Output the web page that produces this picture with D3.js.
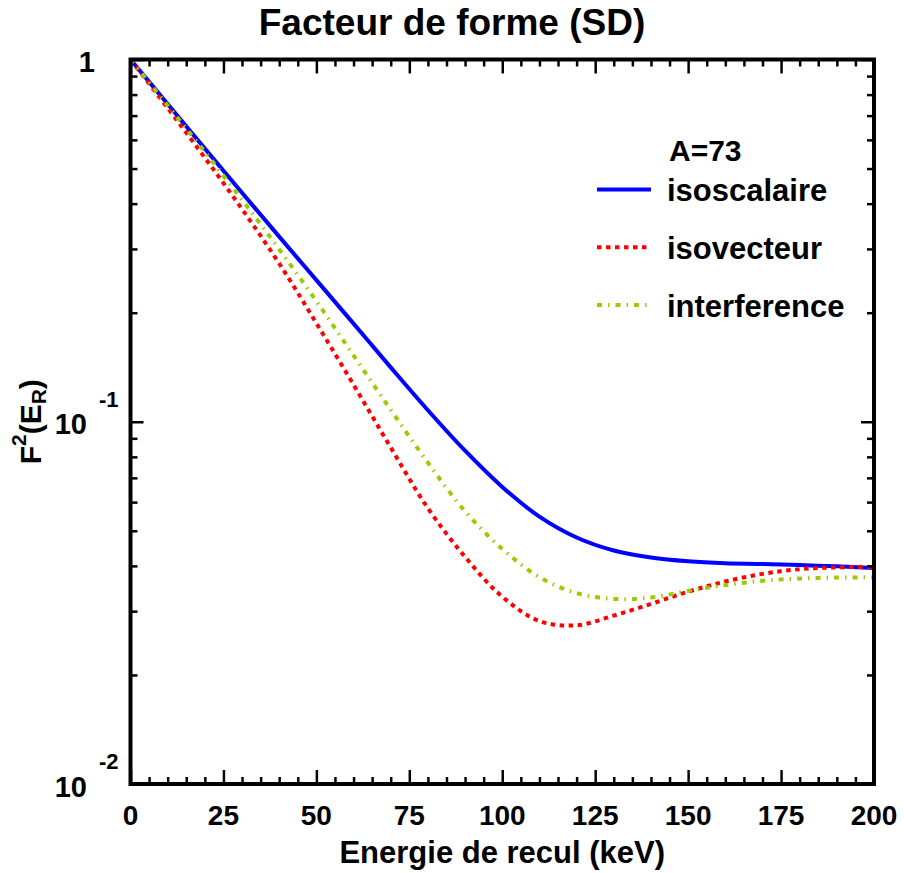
<!DOCTYPE html>
<html>
<head>
<meta charset="utf-8">
<script src="https://cdn.jsdelivr.net/npm/d3@7"></script>
<style>
    body { margin: 0; background: #fff; }
    text { font-family: "Liberation Sans", Arial, sans-serif; font-weight: bold; fill: #000; }
</style>
</head>
<body>
<div id="chart"></div>
<script>
/*global d3*/

// Recoil energy (keV) and squared form factors
var energy = [0, 10, 20, 30, 40, 50, 60, 70, 80, 90, 100, 110, 120, 130, 140, 150, 160, 170, 180, 190, 200];
var isoscalaire = [1, 0.7534, 0.5675, 0.4285, 0.3243, 0.2460, 0.1866, 0.1413, 0.1076, 0.0832, 0.0661, 0.0547, 0.0479, 0.0441, 0.0422, 0.0412, 0.0407, 0.0405, 0.0402, 0.0399, 0.0395];
var isovecteur = [1, 0.7345, 0.5358, 0.3864, 0.2735, 0.1871, 0.1265, 0.0849, 0.0577, 0.04236, 0.03289, 0.02818, 0.02742, 0.02917, 0.03141, 0.03396, 0.03622, 0.03802, 0.03917, 0.03963, 0.03972];
var interference = [1, 0.7464, 0.5559, 0.4102, 0.2992, 0.2153, 0.1524, 0.1079, 0.0771, 0.0566, 0.04457, 0.03724, 0.03365, 0.03243, 0.03273, 0.03412, 0.03540, 0.03639, 0.03690, 0.03715, 0.03719];

var seriesNames = ["isoscalaire", "isovecteur", "interference"];
var xMajorTicks = [0, 25, 50, 75, 100, 125, 150, 175, 200];
var xTickLabels = ["0", "25", "50", "75", "100", "125", "150", "175", "200"];
var yMajorTicks = [0.01, 0.1, 1];
var yTickBase = ["10", "10", "1"];
var yTickExponent = ["-2", "-1", ""];

(function () {
    "use strict";

    var width = 904,
        height = 873,
        left = 130.5,
        right = 874,
        top = 59.5,
        bottom = 784;

    var svg = d3.select("#chart").append("svg")
        .attr("width", width)
        .attr("height", height);

    svg.append("rect").attr("width", width).attr("height", height).attr("fill", "#fff");

    var x = d3.scaleLinear().domain([0, 200]).range([left, right]);
    var y = d3.scaleLog().domain([0.01, 1]).range([bottom, top]);

    // minor ticks: every 5 keV, and 2..9 of each decade
    var xMinor = d3.range(0, 201, 5).filter(function (d) { return d % 25 !== 0; });
    var yMinor = [];
    [0.01, 0.1].forEach(function (dec) {
        d3.range(2, 10).forEach(function (m) { yMinor.push(dec * m); });
    });

    // curves first, frame drawn on top
    var styles = [
        {data: isoscalaire, color: "#0000ff", dash: null},
        {data: isovecteur, color: "#ff0000", dash: "4.5,4.5"},
        {data: interference, color: "#99cc00", dash: "5,6,1.5,6"}
    ];

    var line = d3.line()
        .x(function (d, i) { return x(energy[i]); })
        .y(function (d) { return y(d); })
        .curve(d3.curveCatmullRom.alpha(0.5));

    styles.forEach(function (s) {
        svg.append("path")
            .attr("d", line(s.data))
            .attr("fill", "none")
            .attr("stroke", s.color)
            .attr("stroke-width", 4)
            .attr("stroke-dasharray", s.dash);
    });

    // axes with inward ticks on all four sides
    function drawAxis(axis, tx, ty) {
        var g = svg.append("g").attr("transform", "translate(" + tx + "," + ty + ")").call(axis);
        g.select(".domain").remove();
        g.selectAll("line").attr("stroke", "#000").attr("stroke-width", 2.5);
        g.selectAll("text").remove();
    }

    drawAxis(d3.axisBottom(x).tickValues(xMajorTicks).tickSize(-14), 0, bottom);
    drawAxis(d3.axisBottom(x).tickValues(xMinor).tickSize(-7), 0, bottom);
    drawAxis(d3.axisTop(x).tickValues(xMajorTicks).tickSize(-14), 0, top);
    drawAxis(d3.axisTop(x).tickValues(xMinor).tickSize(-7), 0, top);
    drawAxis(d3.axisLeft(y).tickValues(yMajorTicks).tickSize(-13), left, 0);
    drawAxis(d3.axisLeft(y).tickValues(yMinor).tickSize(-7), left, 0);
    drawAxis(d3.axisRight(y).tickValues(yMajorTicks).tickSize(-13), right, 0);
    drawAxis(d3.axisRight(y).tickValues(yMinor).tickSize(-7), right, 0);

    svg.append("rect")
        .attr("x", left).attr("y", top)
        .attr("width", right - left).attr("height", bottom - top)
        .attr("fill", "none").attr("stroke", "#000").attr("stroke-width", 4);

    // x tick labels
    svg.selectAll(".xlab").data(xMajorTicks).enter().append("text")
        .attr("class", "xlab")
        .attr("x", function (d) { return x(d); })
        .attr("y", bottom + 41)
        .attr("text-anchor", "middle")
        .style("font-size", "28px")
        .text(function (d, i) { return xTickLabels[i]; });

    // y tick labels, 10 with exponent set apart
    yMajorTicks.forEach(function (d, i) {
        if (yTickExponent[i] === "") {
            svg.append("text").attr("x", 95).attr("y", y(d) + 12)
                .attr("text-anchor", "end").style("font-size", "29px").text(yTickBase[i]);
        } else {
            svg.append("text").attr("x", 87).attr("y", y(d) + 12.5)
                .attr("text-anchor", "end").style("font-size", "29px").text(yTickBase[i]);
            svg.append("text").attr("x", 99).attr("y", y(d) - 15)
                .style("font-size", "22px").text(yTickExponent[i]);
        }
    });

    // titles
    svg.append("text").attr("x", 452).attr("y", 35)
        .attr("text-anchor", "middle").style("font-size", "37px")
        .text("Facteur de forme (SD)");

    svg.append("text").attr("x", (left + right) / 2).attr("y", 863)
        .attr("text-anchor", "middle").style("font-size", "31px")
        .text("Energie de recul (keV)");

    var ylab = svg.append("text")
        .attr("transform", "translate(41," + ((top + bottom) / 2) + ") rotate(-90)")
        .attr("text-anchor", "middle")
        .style("font-size", "30px");
    ylab.append("tspan").text("F");
    ylab.append("tspan").attr("dy", -15).style("font-size", "21px").text("2");
    ylab.append("tspan").attr("dy", 15).text("(E");
    ylab.append("tspan").attr("dy", 5).style("font-size", "21px").text("R");
    ylab.append("tspan").attr("dy", -5).text(")");

    // legend
    var legend = svg.append("g");
    legend.append("text").attr("x", 669).attr("y", 161)
        .style("font-size", "30px").text("A=73");

    seriesNames.forEach(function (name, i) {
        var ly = 189.5 + i * 57.8;
        legend.append("line")
            .attr("x1", 597).attr("x2", 651)
            .attr("y1", ly).attr("y2", ly)
            .attr("stroke", styles[i].color)
            .attr("stroke-width", 4)
            .attr("stroke-dasharray", styles[i].dash);
        legend.append("text").attr("x", 667).attr("y", ly + 11.5)
            .style("font-size", "31px").text(name);
    });
}());
</script>
</body>
</html>
